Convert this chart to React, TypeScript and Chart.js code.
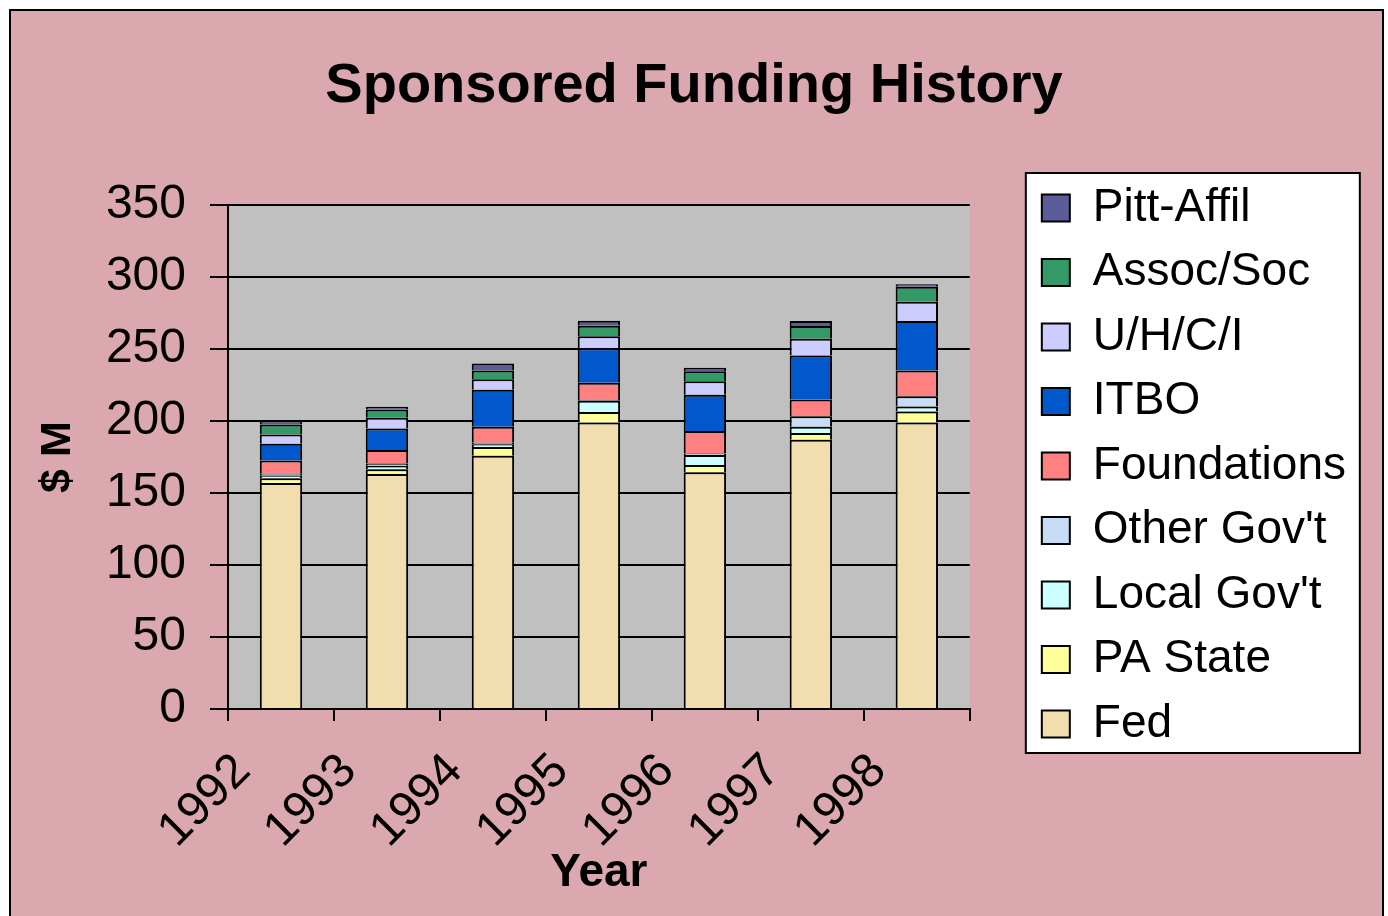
import React, { useEffect, useRef } from 'react';
import { Chart, registerables } from 'chart.js';

Chart.register(...registerables);

const FONT = '"Liberation Sans", Arial, sans-serif';

const years = ['1992', '1993', '1994', '1995', '1996', '1997', '1998'];

const fed = [157, 163.3, 176, 199, 164.5, 187, 199];
const paState = [3.3, 3.2, 6, 7.3, 5, 4.8, 7.7];
const localGov = [2, 2.5, 2, 7.8, 7, 4.2, 3.5];
const otherGov = [1.2, 1.5, 1, 0.5, 1, 7.4, 7];
const foundations = [9.1, 9.5, 11, 12, 15.6, 11.6, 18];
const itbo = [11.6, 14.8, 25.8, 24, 25.3, 30.6, 34.3];
const uhci = [6.5, 7.5, 7.2, 8.4, 9.3, 11.7, 13.5];
const assocSoc = [6.9, 5.7, 6.2, 7.3, 7, 8.7, 10.4];
const pittAffil = [2.8, 2, 4.8, 3.5, 2.3, 3.5, 1.6];

const seriesNames = ['Fed', 'PA State', "Local Gov't", "Other Gov't", 'Foundations', 'ITBO', 'U/H/C/I', 'Assoc/Soc', 'Pitt-Affil'];
const seriesValues = [fed, paState, localGov, otherGov, foundations, itbo, uhci, assocSoc, pittAffil];
const seriesColors = ['#F1DDAE', '#FFFF99', '#CCFFFF', '#C9DCF6', '#FF8080', '#0058CC', '#CCCCFF', '#339966', '#5C5C99'];

const yMin = 0;
const yMax = 350;
const yStep = 50;

const PINK = '#DBA8AF';
const PLOT_BG = '#C0C0C0';

const backdrop = {
  id: 'backdrop',
  beforeDraw(chart: any) {
    const { ctx, width, height, chartArea } = chart;
    ctx.save();
    ctx.fillStyle = '#ffffff';
    ctx.fillRect(0, 0, width, height);
    ctx.fillStyle = PINK;
    ctx.fillRect(10, 10, width - 15, height);
    ctx.strokeStyle = '#000';
    ctx.lineWidth = 2;
    ctx.strokeRect(10, 10, width - 15, height + 20);
    ctx.fillStyle = PLOT_BG;
    ctx.fillRect(chartArea.left, chartArea.top, chartArea.right - chartArea.left, chartArea.bottom - chartArea.top);
    const lg = chart.legend;
    if (lg && lg.legendHitBoxes && lg.legendHitBoxes.length) {
      const hb = lg.legendHitBoxes;
      const first = hb[0];
      const last = hb[hb.length - 1];
      const x = first.left - 16;
      const y = first.top - 12;
      const w = 334;
      const h = last.top + last.height + 6 - y;
      ctx.fillStyle = '#ffffff';
      ctx.fillRect(x, y, w, h);
      ctx.lineWidth = 2;
      ctx.strokeStyle = '#000';
      ctx.strokeRect(x, y, w, h);
    }
    ctx.restore();
  },
};

export default function App() {
  const canvasRef = useRef<HTMLCanvasElement | null>(null);

  useEffect(() => {
    if (!canvasRef.current) return;
    const datasets = seriesNames.map((name, i) => ({
      label: name,
      data: seriesValues[i],
      backgroundColor: seriesColors[i],
      borderColor: '#000000',
      borderWidth: 2,
      categoryPercentage: 1,
      barPercentage: 0.4,
    }));
    const chart = new Chart(canvasRef.current, {
      type: 'bar',
      data: { labels: years, datasets },
      plugins: [backdrop],
      options: {
        responsive: false,
        animation: false,
        devicePixelRatio: 1,
        layout: { padding: { left: 32, right: 32, top: 10, bottom: 0 } },
        plugins: {
          title: {
            display: true,
            text: 'Sponsored Funding History',
            color: '#000',
            font: { family: FONT, size: 56, weight: 'bold' },
            padding: { top: 43, bottom: 85 },
          },
          legend: {
            display: true,
            position: 'right',
            align: 'start',
            reverse: true,
            maxWidth: 420,
            title: { display: true, text: ' ', font: { size: 10 }, padding: { top: 72, bottom: 72.5 } },
            labels: {
              color: '#000',
              font: { family: FONT, size: 46 },
              boxWidth: 28,
              boxHeight: 27,
              padding: 18.5,
            },
          },
          tooltip: { enabled: false },
        },
        scales: {
          x: {
            stacked: true,
            grid: { display: true, drawOnChartArea: false, drawTicks: true, tickLength: 12, color: '#000', lineWidth: 2, offset: true },
            border: { display: true, color: '#000', width: 2 },
            ticks: { color: '#000', font: { family: FONT, size: 48 }, minRotation: 45, maxRotation: 45, padding: 22, labelOffset: -38 },
            title: { display: true, text: 'Year', color: '#000', font: { family: FONT, size: 46, weight: 'bold' }, padding: { top: 0, bottom: 15 } },
            afterFit: (s: any) => { s.height = 207; },
          },
          y: {
            stacked: true,
            min: yMin,
            max: yMax,
            ticks: { stepSize: yStep, color: '#000', font: { family: FONT, size: 48 }, padding: 24 },
            grid: { color: '#000', lineWidth: 2, tickLength: 18 },
            border: { display: true, color: '#000', width: 2 },
            title: { display: true, text: '$ M', color: '#000', font: { family: FONT, size: 43, weight: 'bold' }, padding: 0 },
            afterFit: (s: any) => { s.width = 196; },
          },
          spacer: {
            type: 'linear',
            position: 'right',
            display: true,
            grid: { display: false },
            ticks: { display: false },
            border: { display: false },
            afterFit: (s: any) => { s.width = 53.5; },
          },
        },
      } as any,
    });
    return () => chart.destroy();
  }, []);

  return (
    <div style={{ position: 'absolute', left: 0, top: 0, width: 1388, height: 916 }}>
      <canvas ref={canvasRef} width={1388} height={916} />
    </div>
  );
}
